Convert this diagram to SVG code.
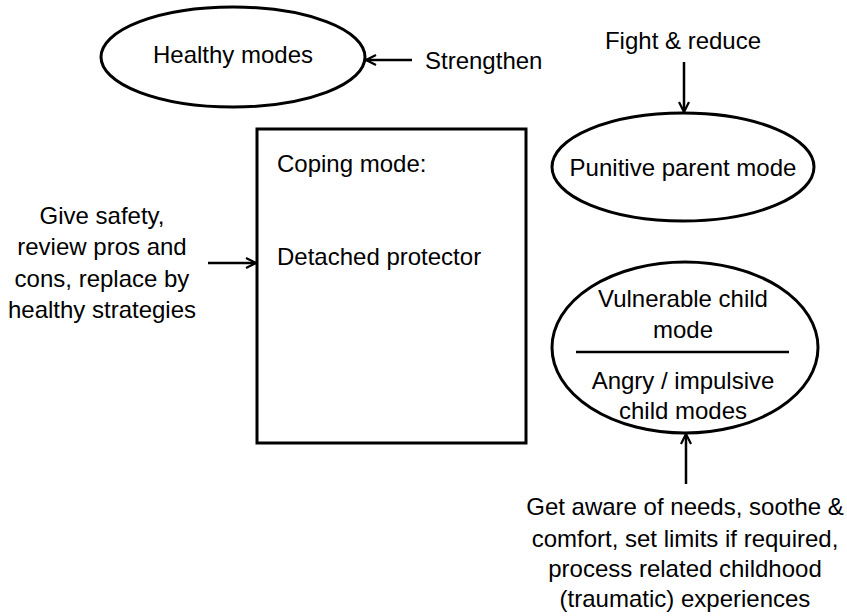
<svg xmlns="http://www.w3.org/2000/svg" width="847" height="616" viewBox="0 0 847 616">
<defs>
<style>
text{font-family:"Liberation Sans",Arial,sans-serif;font-size:24px;fill:#000}
.c{text-anchor:middle}
.s{fill:#fff;stroke:#000;stroke-width:3}
.ln{stroke:#000;stroke-width:2.5;fill:none}
</style>
<marker id="ah" viewBox="0 0 12 12" refX="11" refY="6" markerWidth="12" markerHeight="12" markerUnits="userSpaceOnUse" orient="auto">
<path d="M1,1 L11,6 L1,11" fill="none" stroke="#000" stroke-width="2.2"/>
</marker>
</defs>
<rect width="847" height="616" fill="#fff"/>
<g id="healthy">
<ellipse class="s" cx="233" cy="57" rx="132" ry="50"/>
<text class="c" x="233" y="63">Healthy modes</text>
</g>
<g id="strengthen"><text x="425" y="69">Strengthen</text></g>
<g id="fight"><text class="c" x="683" y="49">Fight &amp; reduce</text></g>
<g id="punitive">
<ellipse class="s" cx="683" cy="167" rx="131" ry="54"/>
<text class="c" x="683" y="176">Punitive parent mode</text>
</g>
<g id="coping">
<rect class="s" x="257" y="129" width="269" height="314"/>
<text x="277" y="172">Coping mode:</text>
<text x="277" y="265">Detached protector</text>
</g>
<g id="give">
<text class="c" x="102" y="224">Give safety,</text>
<text class="c" x="102" y="255">review pros and</text>
<text class="c" x="102" y="287">cons, replace by</text>
<text class="c" x="102" y="318">healthy strategies</text>
</g>
<g id="child">
<ellipse class="s" cx="685" cy="347.5" rx="133" ry="85.5"/>
<text class="c" x="683" y="307">Vulnerable child</text>
<text class="c" x="683" y="338">mode</text>
<line class="ln" x1="576" y1="352" x2="789" y2="352"/>
<text class="c" x="683" y="389">Angry / impulsive</text>
<text class="c" x="683" y="419">child modes</text>
</g>
<g id="aware">
<text class="c" x="685" y="515">Get aware of needs, soothe &amp;</text>
<text class="c" x="685" y="547">comfort, set limits if required,</text>
<text class="c" x="685" y="577">process related childhood</text>
<text class="c" x="685" y="607">(traumatic) experiences</text>
</g>
<g id="connectors">
<line class="ln" x1="412" y1="60" x2="366" y2="60" marker-end="url(#ah)"/>
<line class="ln" x1="684" y1="62" x2="684" y2="112" marker-end="url(#ah)"/>
<line class="ln" x1="208" y1="263" x2="256" y2="263" marker-end="url(#ah)"/>
<line class="ln" x1="686" y1="484" x2="686" y2="434" marker-end="url(#ah)"/>
</g>
</svg>
